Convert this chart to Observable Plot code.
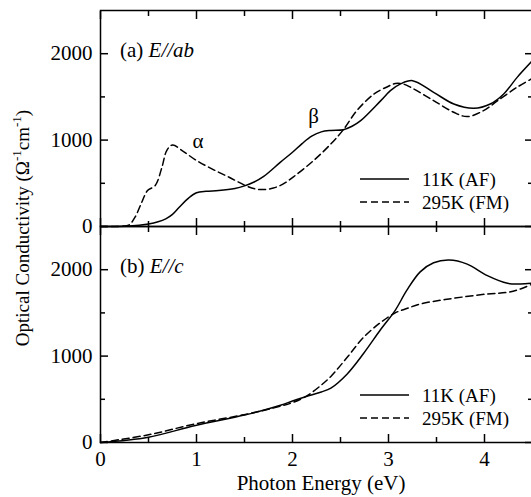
<!DOCTYPE html>
<html><head><meta charset="utf-8">
<script src="https://cdn.jsdelivr.net/npm/d3@7"></script>
<script src="https://cdn.jsdelivr.net/npm/@observablehq/plot@0.6"></script>
<style>
body{margin:0;background:#fff;overflow:hidden;font-family:"Liberation Serif",serif}
#chart{position:relative;width:531px;height:497px}
</style>
</head><body><div id="chart"></div>
<script>
// ---- data ----
const panels = ["a", "b"];
const seriesNames = ["11K (AF)", "295K (FM)"];
const xTicksMajor = [0, 1, 2, 3, 4];
const xTicksMinor = [0.5, 1.5, 2.5, 3.5];
const yTicksMajor = [0, 1000, 2000];
const yTicksMinor = [500, 1500];

// Panel (a) E//ab
const aE_11K = [0, 0.3, 0.5, 0.6, 0.68, 0.75, 0.82, 0.92, 1.0, 1.1, 1.23, 1.4, 1.5, 1.6, 1.7, 1.875, 2.0, 2.1, 2.2, 2.3, 2.4, 2.53, 2.62, 2.71, 2.92, 3.02, 3.125, 3.25, 3.47, 3.68, 3.89, 4.06, 4.2, 4.34, 4.5];
const aS_11K = [0, 5, 30, 55, 89, 140, 223, 332, 390, 408, 416, 440, 470, 515, 580, 745, 860, 960, 1045, 1095, 1112, 1121, 1160, 1225, 1457, 1572, 1650, 1688, 1553, 1418, 1368, 1418, 1534, 1726, 1920];
const aE_295K = [0, 0.25, 0.3, 0.36, 0.43, 0.49, 0.57, 0.64, 0.69, 0.75, 0.85, 0.99, 1.16, 1.34, 1.51, 1.61, 1.7, 1.8, 1.9, 2.01, 2.22, 2.4, 2.53, 2.67, 2.85, 2.99, 3.07, 3.15, 3.23, 3.47, 3.68, 3.82, 3.99, 4.13, 4.34, 4.5];
const aS_295K = [0, 5, 20, 108, 281, 416, 474, 686, 879, 944, 879, 771, 667, 570, 474, 436, 428, 445, 490, 575, 763, 956, 1121, 1341, 1534, 1618, 1655, 1650, 1612, 1457, 1322, 1272, 1341, 1450, 1612, 1715];

// Panel (b) E//c
const bE_11K = [0, 0.5, 0.99, 1.51, 1.875, 2.0, 2.15, 2.3, 2.4, 2.57, 2.74, 2.92, 3.07, 3.19, 3.33, 3.47, 3.63, 3.82, 4.03, 4.24, 4.375, 4.5];
const bS_11K = [0, 62, 197, 320, 432, 480, 535, 585, 630, 794, 1030, 1310, 1530, 1760, 1975, 2080, 2112, 2065, 1931, 1842, 1834, 1845];
const bE_295K = [0, 0.5, 0.99, 1.51, 1.875, 2.0, 2.15, 2.3, 2.4, 2.57, 2.74, 2.92, 3.07, 3.19, 3.33, 3.63, 4.03, 4.24, 4.375, 4.5];
const bS_295K = [0, 89, 216, 325, 420, 462, 540, 665, 765, 986, 1217, 1391, 1500, 1550, 1603, 1661, 1719, 1738, 1777, 1835];

// annotations in panel (a)
const annLabels = ["α", "β"];
const annE = [1.016, 2.22];
const annS = [991, 1280];

// ---- build table ----
const rows = [];
function add(panel, series, E, S) { E.forEach((e, i) => rows.push({panel, series, E: e, s: S[i]})); }
add("a", seriesNames[0], aE_11K, aS_11K);
add("a", seriesNames[1], aE_295K, aS_295K);
add("b", seriesNames[0], bE_11K, bS_11K);
add("b", seriesNames[1], bE_295K, bS_295K);
const ann = annLabels.map((t, i) => ({panel: "a", text: t, E: annE[i], s: annS[i]}));

const DASH = "7,4";
const FONT = "'Liberation Serif', 'Times New Roman', serif";
const tickAx = (fn, ticks, anchor, size) => fn(ticks, {anchor, tickSize: -size, fill: "none", stroke: "black", strokeWidth: 1.5, facetAnchor: null});

const chart = Plot.plot({
  width: 531, height: 497,
  marginLeft: 100, marginRight: -1, marginTop: 10, marginBottom: 55,
  x: {domain: [0, 4.5], axis: null},
  y: {domain: [0, 2500], axis: null},
  fy: {domain: panels, padding: 0, axis: null},
  style: {fontFamily: FONT, fontSize: "21px", color: "black", background: "white"},
  marks: [
    Plot.line(rows.filter(d => d.series === seriesNames[0]), {x: "E", y: "s", fy: "panel", curve: "catmull-rom", stroke: "black", strokeWidth: 1.5}),
    Plot.line(rows.filter(d => d.series === seriesNames[1]), {x: "E", y: "s", fy: "panel", curve: "catmull-rom", stroke: "black", strokeWidth: 1.5, strokeDasharray: DASH}),
    Plot.frame({stroke: "black", strokeWidth: 1.5}),
    tickAx(Plot.axisX, xTicksMajor, "bottom", 8),
    tickAx(Plot.axisX, xTicksMajor, "top", 8),
    tickAx(Plot.axisX, xTicksMinor, "bottom", 5),
    tickAx(Plot.axisX, xTicksMinor, "top", 5),
    tickAx(Plot.axisY, yTicksMajor, "left", 8),
    tickAx(Plot.axisY, yTicksMajor, "right", 8),
    tickAx(Plot.axisY, yTicksMinor, "left", 5),
    tickAx(Plot.axisY, yTicksMinor, "right", 5),
    Plot.axisX(xTicksMajor, {anchor: "bottom", tickSize: 0, tickPadding: 9, fontSize: 21, label: null, tickFormat: d => String(d)}),
    Plot.axisY(yTicksMajor, {anchor: "left", tickSize: 0, tickPadding: 8, fontSize: 21, label: null, tickFormat: d => String(d)}),
    Plot.text(ann, {x: "E", y: "s", fy: "panel", text: "text", fontSize: 21})
  ]
});
document.getElementById("chart").appendChild(chart);

// ---- overlay texts and legends ----
const svg = d3.select(chart);
const g = svg.append("g").attr("font-family", FONT).attr("font-size", 21).attr("fill", "black").attr("text-anchor", "start");

function panelLabel(y, prefix, ital) {
  const t = g.append("text").attr("x", 120).attr("y", y);
  t.append("tspan").text(prefix);
  t.append("tspan").attr("font-style", "italic").text(ital);
}
panelLabel(57, "(a) ", "E//ab");
panelLabel(273, "(b) ", "E//c");

function legend(ySolid, yDash) {
  [[ySolid, null, seriesNames[0]], [yDash, DASH, seriesNames[1]]].forEach(([y, dash, label]) => {
    const l = g.append("line").attr("x1", 360).attr("x2", 409).attr("y1", y).attr("y2", y)
      .attr("stroke", "black").attr("stroke-width", 1.5);
    if (dash) l.attr("stroke-dasharray", dash);
    g.append("text").attr("x", 422).attr("y", y + 7).attr("font-size", 19).text(label);
  });
}
legend(179, 202);
legend(395, 418);

// y title
const yt = g.append("text").attr("transform", "translate(29,228) rotate(-90)").attr("text-anchor", "middle").attr("font-size", 19);
yt.append("tspan").text("Optical Conductivity (Ω");
yt.append("tspan").attr("font-size", 13).attr("dy", -8).text("-1");
yt.append("tspan").attr("dy", 8).text("cm");
yt.append("tspan").attr("font-size", 13).attr("dy", -8).text("-1");
yt.append("tspan").attr("dy", 8).text(")");

// x title
g.append("text").attr("x", 321).attr("y", 490).attr("text-anchor", "middle").text("Photon Energy (eV)");
</script>
</body></html>
